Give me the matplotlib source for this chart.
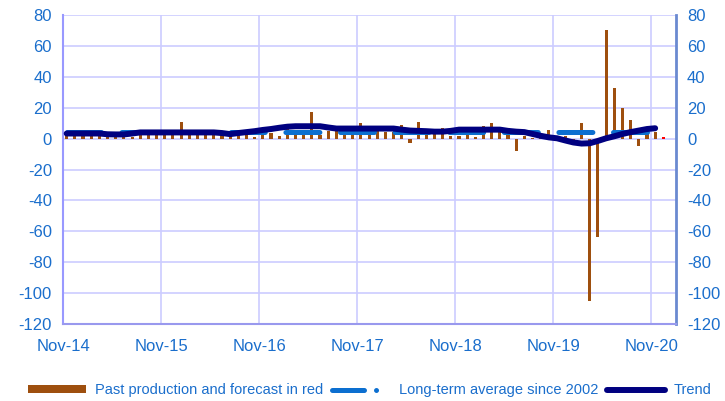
import numpy as np
import pandas as pd
import matplotlib
matplotlib.use("Agg")
import matplotlib.pyplot as plt
from matplotlib.patches import Patch
from matplotlib.lines import Line2D

plt.rcParams['font.family'] = ['Liberation Sans', 'DejaVu Sans']
plt.rcParams['axes.unicode_minus'] = False

# monthly data, Nov-14 .. Nov-20
months = pd.date_range('2014-11-01', periods=73, freq='MS')
production = [
    2.0, 3.0, 2.5, 3.0, 2.5, 3.0, 2.0, 3.0, 1.0, 3.0, 2.5, 3.0,
    3.0, 2.5, 11.0, 3.0, 2.5, 3.0, 3.0, 2.5, 3.0, 2.5, 3.0, 1.0,
    3.7, 3.7, 2.0, 9.0, 2.4, 2.6, 17.0, 2.5, 4.7, 4.7, 2.5, 2.5,
    10.0, 5.0, 5.0, 4.5, 4.5, 9.0, -2.8, 11.0, 3.0, 3.0, 7.0, 1.5,
    1.5, 7.7, 1.0, 8.0, 10.0, 6.0, 7.0, -8.3, 1.5, 0.5, 0.5, 5.8,
    0.5, 1.5, -1.5, 10.0, -105.0, -64.0, 70.0, 33.0, 20.0, 12.0, -5.0, 3.0, 4.5,
]
forecast = [1.0]  # Dec-20
trend = [
    3.3, 3.3, 3.3, 3.3, 3.3, 2.8, 2.7, 2.7, 3.3, 4.0, 4.0, 4.0,
    4.0, 4.0, 4.0, 4.0, 4.0, 4.0, 4.0, 3.6, 2.9, 3.6, 4.2, 4.8,
    5.6, 6.2, 7.0, 7.7, 8.0, 8.0, 8.0, 8.0, 7.2, 6.5, 6.5, 6.5,
    6.5, 6.5, 6.5, 6.5, 6.5, 5.8, 5.2, 5.0, 4.8, 4.5, 4.5, 5.0,
    5.8, 5.8, 5.8, 5.8, 5.8, 5.8, 5.0, 4.5, 4.2, 3.0, 1.8, 0.8,
    0.2, -1.2, -2.5, -3.2, -3.0, -1.5, 0.2, 1.5, 3.0, 4.2, 5.2, 6.2, 6.7,
]
lt_average = 4.0

brown = '#9E4F0E'
lt_blue = '#0C6FD0'
navy = '#000080'
txt_blue = '#1A6ECC'

fig = plt.figure(figsize=(7.25, 4.01), dpi=100)
ax = fig.add_axes([0.0869, 0.192, 0.8455, 0.7706])

x = np.arange(len(production)) + 0.45
x_fc = np.arange(len(production), len(production) + len(forecast)) + 0.45

ax.bar(x, production, width=0.38, color=brown, zorder=2)
ax.bar(x_fc, forecast, width=0.38, color='red', zorder=2)
ax.plot(x, [lt_average] * len(x), color=lt_blue, lw=3.6, dashes=(6.8, 4.12),
        dash_capstyle='round', zorder=3)
ax.plot(x, trend, color=navy, lw=4.3, solid_capstyle='round',
        solid_joinstyle='round', zorder=4)

# axes
ax.set_xlim(0, 75)
ax.set_ylim(-120, 80)
tick_idx = list(range(0, 73, 12))
ax.set_xticks(tick_idx)
ax.set_xticklabels([months[i].strftime('%b-%y') for i in tick_idx])
ax.set_yticks(range(-120, 81, 20))

ax.set_axisbelow(True)
ax.grid(True, color='#CCCCFF', lw=1.2)
ax.spines['top'].set_visible(False)
ax.spines['left'].set_color('#9999FF')
ax.spines['left'].set_linewidth(1.5)
ax.spines['right'].set_color('#6A8AD0')
ax.spines['right'].set_linewidth(2)
ax.spines['bottom'].set_color('#9999EE')
ax.spines['bottom'].set_linewidth(1.5)

ax.tick_params(axis='y', length=0, labelsize=12, labelcolor=txt_blue,
               labelleft=True, labelright=True, pad=8)
ax.tick_params(axis='x', length=0, labelsize=12, labelcolor=txt_blue, pad=11)

# legend
handles = [
    Patch(facecolor=brown, edgecolor='none'),
    Line2D([], [], color=lt_blue, lw=3.6, dashes=(6.4, 2.4, 0.01, 10),
           dash_capstyle='round'),
    Line2D([], [], color=navy, lw=4.3, solid_capstyle='round'),
]
labels = ['Past production and forecast in red',
          'Long-term average since 2002', 'Trend']
fig.legend(handles, labels, loc='center', bbox_to_anchor=(0.51, 0.027),
           ncol=3, frameon=False, fontsize=10.5, handlelength=4,
           handleheight=0.5, handletextpad=0.6, columnspacing=0.6,
           labelcolor=txt_blue)

plt.savefig('out.png', dpi=100)
